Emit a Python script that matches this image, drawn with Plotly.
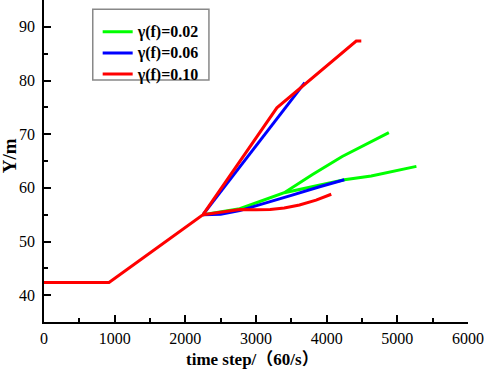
import plotly.graph_objects as go

# ---- data ----
red_main_x = [0, 920, 2250, 3295, 4418, 4490]
red_main_y = [42.35, 42.35, 55.0, 74.9, 87.35, 87.35]
red_low_x = [2250, 2500, 2770, 3000, 3200, 3400, 3615, 3850, 4065]
red_low_y = [55.0, 55.5, 55.95, 55.9, 55.95, 56.25, 56.8, 57.7, 58.8]

blue_up_x = [2250, 3690]
blue_up_y = [55.0, 79.6]
blue_low_x = [2250, 2500, 2770, 3100, 3500, 3900, 4250]
blue_low_y = [55.0, 55.1, 55.75, 57.0, 58.6, 60.2, 61.5]

green_a_x = [2250, 2770, 3400, 3800, 4220, 4880]
green_a_y = [55.0, 56.1, 59.1, 62.5, 65.85, 70.3]
green_b_x = [3400, 3760, 4250, 4630, 5270]
green_b_y = [59.1, 60.1, 61.5, 62.2, 64.0]

labels = ["γ(f)=0.02", "γ(f)=0.06", "γ(f)=0.10"]
x_ticks = [0, 1000, 2000, 3000, 4000, 5000, 6000]
y_ticks = [40, 50, 60, 70, 80, 90]

GREEN, BLUE, RED = "#00FF00", "#0000FF", "#FF0000"
LW = 3
SERIF = "Liberation Serif, Times New Roman, Noto Sans CJK SC, serif"

fig = go.Figure()
def add(x, y, color, name, show):
    fig.add_trace(go.Scatter(x=x, y=y, mode="lines",
                             name=f"<span style='font-size:16px'><b>{name}</b></span>",
                             legendgroup=name, showlegend=show,
                             line=dict(color=color, width=LW)))

add(green_a_x, green_a_y, GREEN, labels[0], True)
add(green_b_x, green_b_y, GREEN, labels[0], False)
add(blue_up_x, blue_up_y, BLUE, labels[1], True)
add(blue_low_x, blue_low_y, BLUE, labels[1], False)
add(red_main_x, red_main_y, RED, labels[2], True)
add(red_low_x, red_low_y, RED, labels[2], False)

axis_common = dict(showline=True, linecolor="black", linewidth=1.5, showgrid=False,
                   zeroline=False, ticks="inside", ticklen=7, tickwidth=1.5,
                   tickcolor="black", mirror=False, automargin=False,
                   tickfont=dict(family=SERIF, size=16, color="black"))

fig.update_xaxes(range=[0, 6000], tickvals=x_ticks,
                 minor=dict(ticks="inside", ticklen=4, dtick=500, tickwidth=1.5, tickcolor="black"),
                 ticklabelstandoff=1,
                 **axis_common)
fig.update_yaxes(range=[35, 95], tickvals=y_ticks,
                 minor=dict(ticks="inside", ticklen=4, dtick=5, tickwidth=1.5, tickcolor="black"),
                 ticklabelstandoff=4,
                 **axis_common)

fig.add_annotation(text="<b>Y/m</b>", xref="paper", yref="paper", x=-0.081, y=0.517,
                   textangle=-90, showarrow=False, xanchor="center", yanchor="middle",
                   font=dict(family=SERIF, size=19, color="black"))
fig.add_annotation(text="<b>time step/（60/s）</b>", xref="paper", yref="paper",
                   x=0.492, y=-0.118, showarrow=False, xanchor="center", yanchor="middle",
                   font=dict(family=SERIF, size=17, color="black"))

# legend frame
fig.add_shape(type="rect", xref="paper", yref="paper",
              x0=0.115, x1=0.389, y0=0.7516, y1=0.971,
              line=dict(color="#888888", width=1.5), fillcolor="rgba(0,0,0,0)", layer="above")

fig.update_layout(
    width=484, height=371,
    margin=dict(l=44, r=16, t=0, b=49),
    plot_bgcolor="white", paper_bgcolor="white",
    legend=dict(x=0.1266, y=0.950, xanchor="left", yanchor="top",
                borderwidth=0, bgcolor="rgba(0,0,0,0)",
                font=dict(family=SERIF, size=14, color="black"),
                tracegroupgap=0, itemwidth=30),
)

fig.write_html("out.html", config={"displayModeBar": False},
               post_script="document.body.style.margin='0';document.body.style.overflow='hidden';")
